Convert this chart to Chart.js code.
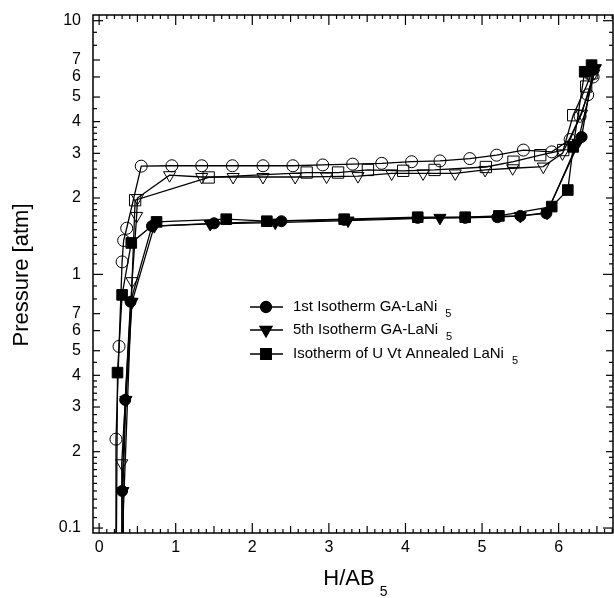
<!DOCTYPE html>
<html>
<head>
<meta charset="utf-8">
<script src="https://cdn.jsdelivr.net/npm/chart.js@4/dist/chart.umd.min.js"></script>
<style>
  body { margin: 0; background: #fff; }
</style>
</head>
<body>
<canvas id="myChart" width="614" height="598"></canvas>
<script>
// isotherm data, H/AB5 vs pressure (atm)
// filled markers = desorption branch, open markers = absorption branch
const firstDesX = [0.31, 0.30, 0.34, 0.41, 0.69, 1.50, 2.38, 3.20, 4.16, 4.78, 5.20, 5.50, 5.84, 6.30, 6.45]
const firstDesY = [0.05, 0.14, 0.32, 0.78, 1.55, 1.59, 1.62, 1.64, 1.67, 1.67, 1.68, 1.70, 1.74, 3.48, 6.40]

const fifthDesX = [0.33, 0.31, 0.35, 0.43, 0.72, 1.45, 2.30, 3.25, 4.45, 5.50, 5.85, 6.25, 6.48]
const fifthDesY = [0.05, 0.14, 0.32, 0.78, 1.55, 1.58, 1.60, 1.63, 1.67, 1.70, 1.75, 3.30, 6.50]

const annealDesX = [0.22, 0.24, 0.30, 0.42, 0.75, 1.66, 2.19, 3.20, 4.16, 4.78, 5.22, 5.91, 6.12, 6.19, 6.34, 6.43]
const annealDesY = [0.05, 0.41, 0.83, 1.33, 1.61, 1.65, 1.62, 1.65, 1.68, 1.68, 1.70, 1.85, 2.15, 3.18, 6.29, 6.68]

const firstAbsX = [0.21, 0.22, 0.26, 0.30, 0.32, 0.36, 0.55, 0.95, 1.34, 1.74, 2.14, 2.53, 2.92, 3.31, 3.69, 4.08, 4.45, 4.84, 5.19, 5.54, 5.91, 6.15, 6.28, 6.38, 6.45]
const firstAbsY = [0.05, 0.224, 0.52, 1.12, 1.36, 1.52, 2.67, 2.68, 2.68, 2.68, 2.68, 2.68, 2.70, 2.72, 2.74, 2.78, 2.80, 2.86, 2.95, 3.09, 3.04, 3.40, 4.20, 5.10, 6.00]

const fifthAbsX = [0.30, 0.295, 0.43, 0.49, 0.50, 0.92, 1.34, 1.75, 2.14, 2.56, 2.97, 3.38, 3.82, 4.23, 4.65, 5.04, 5.40, 5.80, 6.05, 6.30, 6.46]
const fifthAbsY = [0.05, 0.18, 0.94, 1.70, 2.00, 2.46, 2.42, 2.42, 2.42, 2.42, 2.43, 2.44, 2.50, 2.50, 2.50, 2.58, 2.62, 2.66, 3.00, 4.30, 6.20]

const annealAbsX = [0.27, 0.47, 1.43, 2.71, 3.12, 3.51, 3.97, 4.38, 5.05, 5.41, 5.76, 6.06, 6.19, 6.36, 6.43]
const annealAbsY = [0.05, 1.96, 2.41, 2.52, 2.52, 2.58, 2.56, 2.58, 2.65, 2.78, 2.95, 3.09, 4.24, 5.50, 6.20]

const legendLabels = ["1st Isotherm GA-LaNi", "5th Isotherm GA-LaNi", "Isotherm of U Vt Annealed LaNi"]

const xTickVals = [0, 1, 2, 3, 4, 5, 6]
const yTickVals = [0.1, 0.2, 0.3, 0.4, 0.5, 0.6, 0.7, 0.8, 0.9, 1, 2, 3, 4, 5, 6, 7, 8, 9, 10]
const yLabelText = { 0.1: "0.1", 0.2: "2", 0.3: "3", 0.4: "4", 0.5: "5", 0.6: "6", 0.7: "7",
  1: "1", 2: "2", 3: "3", 4: "4", 5: "5", 6: "6", 7: "7", 10: "10" }
// minor tick marks only (no labels)
const yMinorVals = [0.11, 0.12, 0.13, 0.14, 0.15, 0.16, 0.17, 0.18, 0.19,
  0.22, 0.24, 0.26, 0.28, 0.32, 0.34, 0.36, 0.38, 0.45,
  1.1, 1.2, 1.3, 1.4, 1.5, 1.6, 1.7, 1.8, 1.9,
  2.2, 2.4, 2.6, 2.8, 3.2, 3.4, 3.6, 3.8, 4.5]

function pts(xs, ys) {
  return xs.map((x, i) => ({ x: x, y: ys[i] }))
}

const FONT = "'Liberation Sans', Arial, Helvetica, sans-serif"

function series(label, xs, ys, style, filled, radius, rotation) {
  return {
    label: label,
    data: pts(xs, ys),
    showLine: true,
    borderColor: "#000",
    borderWidth: 1.3,
    pointStyle: style,
    pointRotation: rotation || 0,
    pointRadius: radius,
    pointBorderWidth: 1,
    pointBorderColor: "#000",
    pointBackgroundColor: filled ? "#000" : "rgba(0,0,0,0)",
    tension: 0,
  }
}

// box, inward ticks, legend and axis titles
const frame = {
  id: "frame",
  afterDraw(chart) {
    const ctx = chart.ctx
    const a = chart.chartArea
    const xs = chart.scales.x
    const ys = chart.scales.y
    ctx.save()
    ctx.strokeStyle = "#000"
    ctx.lineWidth = 1.5
    ctx.strokeRect(a.left, a.top, a.right - a.left, a.bottom - a.top)

    function seg(x1, y1, x2, y2) {
      ctx.beginPath()
      ctx.moveTo(x1, y1)
      ctx.lineTo(x2, y2)
      ctx.stroke()
    }
    ctx.lineWidth = 1.2
    for (let i = 0; i <= 67; i++) {
      const px = xs.getPixelForValue(i / 10)
      const len = i % 10 === 0 ? 10 : i % 5 === 0 ? 7 : 4
      seg(px, a.bottom, px, a.bottom - len)
      seg(px, a.top, px, a.top + len)
    }
    const allY = yTickVals.concat(yMinorVals)
    allY.forEach((v) => {
      const py = ys.getPixelForValue(v)
      let len = 4
      if (v === 0.1 || v === 1 || v === 10) len = 10
      else if (yLabelText[v]) len = 7
      seg(a.left, py, a.left + len, py)
      seg(a.right, py, a.right - len, py)
    })

    // legend
    ctx.fillStyle = "#000"
    ctx.font = "15px " + FONT
    ctx.textBaseline = "middle"
    ctx.textAlign = "left"
    const rows = [307, 330, 354]
    for (let i = 0; i < 3; i++) {
      const ds = chart.data.datasets[i]
      const y = rows[i]
      ctx.lineWidth = 1.3
      seg(250, y, 283, y)
      Chart.helpers.drawPoint(ctx, {
        pointStyle: ds.pointStyle,
        rotation: ds.pointRotation,
        radius: ds.pointRadius,
        borderWidth: 1,
      }, 266, y)
      ctx.fillStyle = "#000"
      ctx.fill()
      ctx.font = "15px " + FONT
      ctx.fillText(legendLabels[i], 293, y)
      const w = ctx.measureText(legendLabels[i]).width
      ctx.font = "11px " + FONT
      ctx.fillText("5", 293 + w + 8, y + 7)
    }

    // axis titles
    ctx.font = "22px " + FONT
    ctx.textAlign = "center"
    ctx.textBaseline = "middle"
    ctx.save()
    ctx.translate(22, 275)
    ctx.rotate(-Math.PI / 2)
    ctx.fillText("Pressure [atm]", 0, 0)
    ctx.restore()

    ctx.textAlign = "left"
    ctx.textBaseline = "alphabetic"
    const tw = ctx.measureText("H/AB").width
    const tx = 349 - tw / 2
    ctx.fillText("H/AB", tx, 585)
    ctx.font = "14px " + FONT
    ctx.fillText("5", tx + tw + 5, 596)
    ctx.restore()
  },
}

new Chart(document.querySelector("#myChart"), {
  type: "scatter",
  data: {
    datasets: [
      series(legendLabels[0], firstDesX, firstDesY, "circle", true, 5.5),
      series(legendLabels[1], fifthDesX, fifthDesY, "triangle", true, 7, 180),
      series(legendLabels[2], annealDesX, annealDesY, "rect", true, 7.5),
      series("abs1", firstAbsX, firstAbsY, "circle", false, 6),
      series("abs5", fifthAbsX, fifthAbsY, "triangle", false, 7, 180),
      series("absU", annealAbsX, annealAbsY, "rect", false, 8),
    ],
  },
  options: {
    responsive: false,
    animation: false,
    layout: { autoPadding: false, padding: { left: 0, right: 1, top: 15, bottom: 0 } },
    plugins: {
      legend: { display: false },
      tooltip: { enabled: false },
    },
    scales: {
      x: {
        type: "linear",
        min: -0.08,
        max: 6.71,
        afterBuildTicks: (scale) => {
          scale.ticks = xTickVals.map((v) => ({ value: v }))
        },
        afterFit: (scale) => {
          scale.height = 65
          scale.paddingLeft = 0
          scale.paddingRight = 0
        },
        grid: { display: false, drawTicks: false },
        border: { display: false },
        ticks: {
          color: "#000",
          padding: 5,
          font: { family: FONT, size: 16 },
          maxRotation: 0,
          autoSkip: false,
        },
      },
      y: {
        type: "logarithmic",
        min: 0.0956,
        max: 10.53,
        afterBuildTicks: (scale) => {
          scale.ticks = yTickVals.map((v) => ({ value: v }))
        },
        afterFit: (scale) => {
          scale.width = 93
          scale.paddingTop = 0
          scale.paddingBottom = 0
        },
        grid: { display: false, drawTicks: false },
        border: { display: false },
        ticks: {
          color: "#000",
          padding: 12,
          autoSkip: false,
          font: { family: FONT, size: 16 },
          callback: (value) => yLabelText[value] || "",
        },
      },
    },
  },
  plugins: [frame],
})
</script>
</body>
</html>
